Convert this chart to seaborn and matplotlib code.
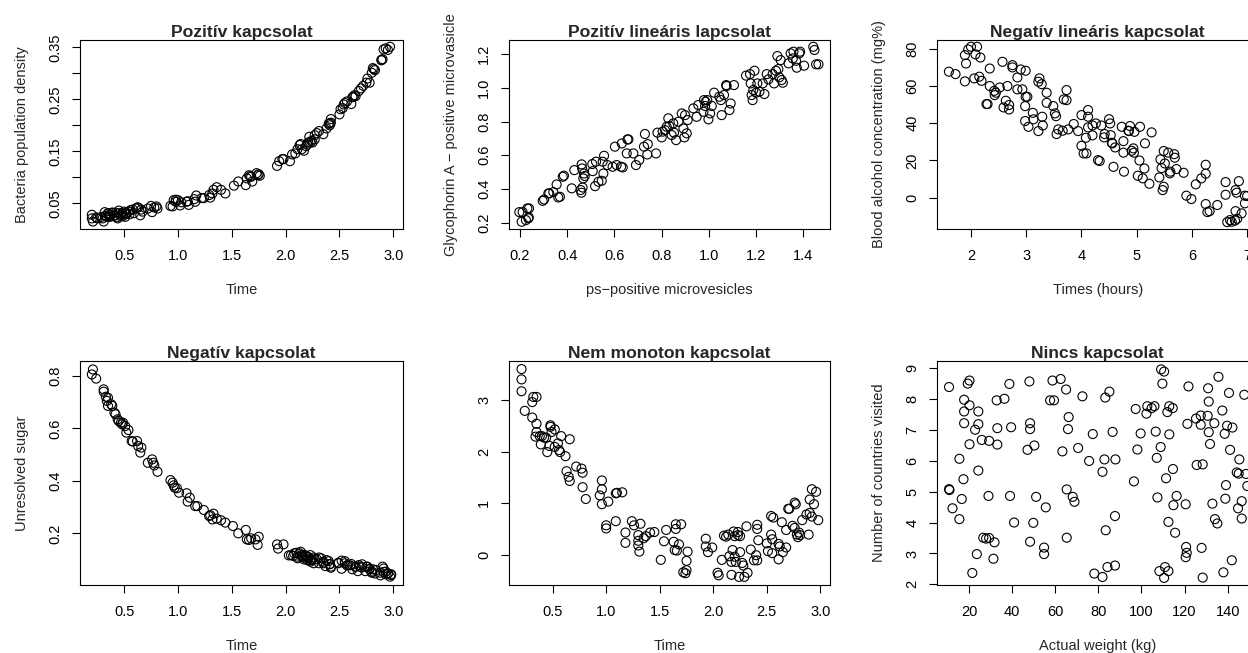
import matplotlib
matplotlib.use("Agg")
import matplotlib.pyplot as plt
import seaborn as sns

# --- data ---
# Pozitiv kapcsolat
bact_time = [0.20, 0.20, 0.21, 0.24, 0.30, 0.31, 0.32, 0.33, 0.34, 0.35, 0.36, 0.37, 0.39, 0.41, 0.42,
             0.44, 0.45, 0.47, 0.47, 0.48, 0.50, 0.51, 0.52, 0.55, 0.58, 0.59, 0.62, 0.65, 0.66, 0.72,
             0.76, 0.78, 0.80, 0.95, 0.96, 0.98, 1.00, 1.02, 1.09, 1.10, 1.16, 1.17, 1.24, 1.29, 1.30,
             1.32, 1.33, 1.36, 1.40, 1.44, 1.52, 1.56, 1.63, 1.64, 1.66, 1.67, 1.68, 1.69, 1.73, 1.74,
             1.75, 1.76, 1.92, 1.94, 1.97, 1.98, 2.04, 2.06, 2.09, 2.11, 2.13, 2.14, 2.15, 2.17, 2.19,
             2.20, 2.21, 2.22, 2.23, 2.24, 2.25, 2.27, 2.27, 2.29, 2.31, 2.35, 2.38, 2.40, 2.41, 2.41,
             2.42, 2.42, 2.50, 2.51, 2.53, 2.54, 2.55, 2.57, 2.61, 2.62, 2.63, 2.64, 2.65, 2.68, 2.70,
             2.72, 2.75, 2.76, 2.78, 2.80, 2.81, 2.82, 2.83, 2.89, 2.89, 2.90, 2.91, 2.93, 2.95, 2.97,
             0.25, 0.29, 0.33, 0.35, 0.37, 0.39, 0.41, 0.43, 0.45, 0.49, 0.52, 0.54, 0.56, 0.61, 0.63,
             0.67, 0.75, 0.81, 0.93, 0.98, 1.03, 1.08, 1.15, 1.22]
bact_density = [0.028, 0.021, 0.015, 0.023, 0.021, 0.015, 0.033, 0.026, 0.024, 0.031, 0.025, 0.028, 0.032,
                0.026, 0.032, 0.021, 0.036, 0.028, 0.025, 0.031, 0.034, 0.024, 0.032, 0.029, 0.038, 0.031,
                0.042, 0.027, 0.038, 0.040, 0.033, 0.042, 0.044, 0.044, 0.056, 0.053, 0.056, 0.046, 0.054,
                0.047, 0.053, 0.065, 0.060, 0.066, 0.061, 0.069, 0.076, 0.081, 0.076, 0.069, 0.084, 0.092,
                0.085, 0.098, 0.104, 0.102, 0.101, 0.092, 0.108, 0.104, 0.106, 0.103, 0.122, 0.131, 0.135,
                0.135, 0.131, 0.144, 0.146, 0.154, 0.162, 0.164, 0.154, 0.151, 0.160, 0.163, 0.167, 0.178,
                0.167, 0.170, 0.167, 0.173, 0.181, 0.185, 0.189, 0.183, 0.194, 0.203, 0.204, 0.200, 0.212,
                0.205, 0.221, 0.231, 0.233, 0.240, 0.243, 0.246, 0.241, 0.254, 0.255, 0.258, 0.256, 0.266,
                0.271, 0.276, 0.282, 0.290, 0.282, 0.301, 0.310, 0.308, 0.306, 0.326, 0.325, 0.327, 0.346,
                0.348, 0.345, 0.351,
                0.021, 0.024, 0.026, 0.030, 0.024, 0.032, 0.027, 0.023, 0.031, 0.026, 0.030, 0.034, 0.037,
                0.040, 0.042, 0.034, 0.045, 0.040, 0.045, 0.057, 0.052, 0.053, 0.058, 0.060]

# Pozitiv linearis
ps_micro = [0.197, 0.211, 0.207, 0.225, 0.231, 0.237, 0.238, 0.235, 0.296, 0.302, 0.320, 0.324, 0.341, 0.355,
            0.362, 0.369, 0.381, 0.386, 0.419, 0.430, 0.457, 0.460, 0.461, 0.463, 0.465, 0.468, 0.471, 0.474,
            0.506, 0.508, 0.518, 0.522, 0.532, 0.546, 0.553, 0.556, 0.550, 0.570, 0.592, 0.602, 0.609, 0.628,
            0.631, 0.635, 0.652, 0.655, 0.659, 0.680, 0.691, 0.705, 0.725, 0.729, 0.741, 0.739, 0.776, 0.782,
            0.800, 0.804, 0.814, 0.821, 0.832, 0.828, 0.842, 0.849, 0.852, 0.861, 0.871, 0.885, 0.892, 0.896,
            0.899, 0.906, 0.910, 0.934, 0.948, 0.955, 0.977, 0.979, 0.986, 0.984, 0.993, 0.998, 1.005, 1.012,
            1.022, 1.044, 1.051, 1.054, 1.064, 1.073, 1.075, 1.087, 1.092, 1.106, 1.157, 1.174, 1.177, 1.181,
            1.185, 1.188, 1.193, 1.200, 1.205, 1.214, 1.228, 1.235, 1.245, 1.252, 1.270, 1.276, 1.284, 1.294,
            1.298, 1.308, 1.313, 1.290, 1.304, 1.337, 1.346, 1.355, 1.358, 1.369, 1.372, 1.383, 1.386, 1.403,
            1.442, 1.447, 1.454, 1.464]
glyco = [0.263, 0.263, 0.206, 0.216, 0.285, 0.232, 0.285, 0.226, 0.330, 0.338, 0.374, 0.374, 0.382, 0.427,
         0.350, 0.354, 0.473, 0.479, 0.404, 0.512, 0.394, 0.378, 0.546, 0.522, 0.409, 0.463, 0.492, 0.477,
         0.548, 0.506, 0.417, 0.562, 0.443, 0.449, 0.492, 0.597, 0.562, 0.542, 0.532, 0.651, 0.542, 0.532,
         0.670, 0.528, 0.611, 0.694, 0.694, 0.611, 0.542, 0.572, 0.651, 0.726, 0.666, 0.605, 0.611, 0.734,
         0.706, 0.740, 0.749, 0.769, 0.773, 0.819, 0.720, 0.789, 0.734, 0.690, 0.799, 0.848, 0.759, 0.706,
         0.838, 0.730, 0.809, 0.878, 0.828, 0.898, 0.858, 0.927, 0.917, 0.892, 0.927, 0.813, 0.848, 0.892,
         0.971, 0.947, 0.927, 0.838, 0.957, 1.016, 1.010, 0.868, 0.907, 1.016, 1.072, 1.081, 1.026, 0.957,
         0.927, 0.987, 1.101, 0.971, 1.026, 0.977, 1.026, 0.963, 1.081, 1.050, 1.081, 1.026, 1.101, 1.111,
         1.062, 1.046, 1.030, 1.188, 1.164, 1.145, 1.204, 1.174, 1.214, 1.160, 1.119, 1.204, 1.214, 1.131,
         1.243, 1.224, 1.139, 1.139]

# Negativ linearis
hours = [1.60, 1.72, 1.89, 1.91, 1.89, 1.95, 2.00, 2.11, 2.08, 2.17, 2.06, 2.15, 2.19, 2.34, 2.34, 2.28,
         2.30, 2.42, 2.43, 2.45, 2.52, 2.57, 2.59, 2.63, 2.66, 2.69, 2.69, 2.75, 2.75, 2.84, 2.84, 2.90,
         2.93, 2.99, 2.98, 2.99, 3.02, 2.98, 3.04, 3.12, 3.13, 3.22, 3.22, 3.24, 3.28, 3.29, 3.30, 3.37,
         3.37, 3.49, 3.52, 3.54, 3.55, 3.58, 3.66, 3.68, 3.73, 3.73, 3.76, 3.86, 3.94, 4.00, 4.00, 4.04,
         4.09, 4.08, 4.12, 4.12, 4.12, 4.20, 4.20, 4.26, 4.30, 4.33, 4.36, 4.41, 4.42, 4.50, 4.52, 4.53,
         4.55, 4.58, 4.56, 4.61, 4.73, 4.76, 4.76, 4.77, 4.85, 4.86, 4.88, 4.91, 4.94, 4.95, 4.96, 5.02,
         5.05, 5.06, 5.11, 5.14, 5.15, 5.23, 5.27, 5.41, 5.43, 5.45, 5.47, 5.49, 5.51, 5.49, 5.57, 5.60,
         5.61, 5.68, 5.69, 5.72, 5.85, 5.90, 5.99, 6.07, 6.17, 6.25, 6.25, 6.25, 6.28, 6.32, 6.46, 6.61,
         6.61, 6.64, 6.69, 6.72, 6.78, 6.79, 6.81, 6.79, 6.85, 6.90, 6.82, 6.96, 6.96, 7.00]
alcohol = [67.7, 66.4, 62.5, 72.1, 76.6, 79.6, 81.1, 81.1, 77.0, 75.3, 64.1, 65.0, 62.8, 69.4, 60.0, 50.3,
           50.3, 57.4, 55.1, 56.4, 59.2, 73.0, 48.5, 52.1, 60.0, 49.8, 47.4, 71.2, 70.0, 64.6, 58.2, 68.9,
           58.2, 68.2, 49.2, 54.2, 54.2, 41.2, 38.1, 45.6, 42.1, 35.8, 62.3, 64.1, 61.0, 43.5, 38.8, 56.4,
           51.0, 49.2, 45.3, 43.8, 34.2, 36.7, 36.0, 52.8, 57.8, 52.4, 36.7, 39.6, 35.8, 27.9, 44.4, 23.8,
           23.8, 32.2, 47.1, 43.5, 37.8, 38.8, 33.5, 39.9, 20.2, 19.7, 38.8, 32.4, 34.2, 42.2, 39.9, 33.6,
           29.5, 16.6, 29.2, 27.0, 38.1, 30.4, 24.2, 14.0, 36.0, 35.8, 38.5, 25.2, 26.5, 24.2, 35.4, 11.8,
           20.0, 38.1, 10.4, 15.7, 29.2, 7.5, 35.1, 10.9, 20.6, 15.9, 4.1, 25.1, 18.4, 5.9, 24.2, 13.1,
           14.0, 23.4, 21.5, 15.4, 13.4, 1.1, -0.7, 7.2, 10.4, 17.7, 12.9, -3.4, -7.7, -7.2, -3.9, 8.4,
           1.6, -13.1, -12.0, -12.9, -12.3, -7.2, 2.7, 4.1, 8.9, -8.4, -11.3, 1.1, -3.0, 0.9]

# Negativ kapcsolat
sugar_time = [0.21, 0.20, 0.24, 0.31, 0.31, 0.33, 0.35, 0.34, 0.35, 0.38, 0.39, 0.41, 0.42, 0.44, 0.45,
              0.47, 0.48, 0.49, 0.51, 0.52, 0.54, 0.57, 0.58, 0.62, 0.63, 0.65, 0.66, 0.72, 0.76, 0.77,
              0.78, 0.81, 0.93, 0.95, 0.96, 0.97, 0.99, 1.01, 1.08, 1.09, 1.11, 1.16, 1.18, 1.24, 1.29,
              1.30, 1.32, 1.33, 1.36, 1.40, 1.44, 1.51, 1.56, 1.63, 1.64, 1.66, 1.68, 1.72, 1.75, 1.74,
              1.92, 1.93, 1.98, 2.03, 2.07, 2.10, 2.11, 2.14, 2.15, 2.17, 2.18, 2.20, 2.21, 2.23, 2.24,
              2.26, 2.27, 2.31, 2.33, 2.35, 2.37, 2.40, 2.41, 2.42, 2.49, 2.52, 2.55, 2.57, 2.60, 2.62,
              2.65, 2.67, 2.69, 2.71, 2.74, 2.76, 2.78, 2.80, 2.81, 2.83, 2.88, 2.90, 2.91, 2.93, 2.95,
              2.97, 2.98,
              2.05, 2.08, 2.11, 2.13, 2.15, 2.17, 2.19, 2.21, 2.23, 2.24, 2.26, 2.29, 2.31, 2.35, 2.38,
              2.41, 2.42, 2.49, 2.52, 2.55, 2.58, 2.61, 2.65, 2.68, 2.71, 2.75, 2.78, 2.80, 2.84, 2.88,
              2.91, 2.93, 2.95, 2.98]
unresolved_sugar = [0.825, 0.806, 0.790, 0.749, 0.740, 0.721, 0.717, 0.705, 0.686, 0.692, 0.686, 0.660,
                    0.654, 0.635, 0.628, 0.622, 0.616, 0.622, 0.609, 0.584, 0.594, 0.552, 0.550, 0.552,
                    0.533, 0.508, 0.527, 0.469, 0.482, 0.469, 0.459, 0.435, 0.403, 0.393, 0.383, 0.374,
                    0.372, 0.355, 0.353, 0.321, 0.336, 0.304, 0.304, 0.289, 0.266, 0.269, 0.253, 0.275,
                    0.256, 0.250, 0.241, 0.228, 0.200, 0.213, 0.177, 0.175, 0.181, 0.177, 0.187, 0.156,
                    0.158, 0.142, 0.158, 0.116, 0.114, 0.126, 0.105, 0.130, 0.111, 0.101, 0.117, 0.098,
                    0.110, 0.092, 0.101, 0.086, 0.101, 0.086, 0.105, 0.086, 0.075, 0.094, 0.082, 0.069,
                    0.086, 0.065, 0.094, 0.078, 0.078, 0.063, 0.073, 0.056, 0.073, 0.082, 0.056, 0.073,
                    0.065, 0.050, 0.063, 0.047, 0.040, 0.073, 0.053, 0.044, 0.047, 0.035, 0.044,
                    0.117, 0.124, 0.111, 0.124, 0.117, 0.108, 0.113, 0.104, 0.117, 0.098, 0.108, 0.101,
                    0.108, 0.092, 0.098, 0.083, 0.073, 0.088, 0.096, 0.086, 0.079, 0.083, 0.073, 0.079,
                    0.070, 0.073, 0.063, 0.054, 0.060, 0.050, 0.066, 0.054, 0.047, 0.041]

# Nem monoton
nm_time = [0.21, 0.21, 0.21, 0.24, 0.31, 0.32, 0.35, 0.31, 0.35, 0.35, 0.34, 0.38, 0.40, 0.39, 0.42,
           0.44, 0.45, 0.47, 0.48, 0.48, 0.49, 0.52, 0.52, 0.55, 0.56, 0.57, 0.58, 0.62, 0.63, 0.65,
           0.66, 0.66, 0.72, 0.77, 0.78, 0.78, 0.81, 0.94, 0.96, 0.96, 0.96, 1.00, 1.00, 1.02, 1.09,
           1.10, 1.15, 1.09, 1.18, 1.18, 1.24, 1.26, 1.30, 1.30, 1.30, 1.31, 1.32, 1.35, 1.37, 1.41,
           1.45, 1.51, 1.54, 1.56, 1.63, 1.64, 1.65, 1.65, 1.66, 1.68, 1.70, 1.72, 1.74, 1.75, 1.75,
           1.76, 1.93, 1.93, 1.95, 1.99, 2.04, 2.05, 2.08, 2.10, 2.12, 2.14, 2.15, 2.17, 2.17, 2.18,
           2.19, 2.20, 2.20, 2.21, 2.23, 2.23, 2.24, 2.25, 2.25, 2.27, 2.28, 2.29, 2.31, 2.32, 2.35,
           2.38, 2.40, 2.41, 2.41, 2.42, 2.41, 2.50, 2.51, 2.54, 2.55, 2.54, 2.55, 2.56, 2.61, 2.62,
           2.61, 2.64, 2.65, 2.68, 2.68, 2.70, 2.71, 2.74, 2.76, 2.77, 2.76, 2.78, 2.79, 2.80, 2.81,
           2.83, 2.87, 2.89, 2.90, 2.90, 2.92, 2.92, 2.94, 2.96, 2.98]
nm_value = [3.60, 3.40, 3.17, 2.79, 2.96, 3.06, 3.06, 2.66, 2.54, 2.38, 2.29, 2.30, 2.30, 2.14, 2.27,
            2.27, 1.99, 2.11, 2.51, 2.48, 2.38, 2.43, 2.09, 2.16, 2.03, 1.99, 2.30, 1.91, 1.62, 1.51,
            1.43, 2.24, 1.71, 1.67, 1.59, 1.31, 1.08, 1.15, 1.44, 1.27, 0.98, 0.57, 0.51, 1.03, 1.19,
            1.20, 1.21, 0.65, 0.43, 0.23, 0.65, 0.57, 0.38, 0.27, 0.18, 0.06, 0.60, 0.32, 0.36, 0.43,
            0.44, -0.10, 0.26, 0.48, 0.25, 0.09, 0.50, 0.59, 0.08, 0.20, 0.59, -0.34, -0.36, -0.30, -0.12,
            0.06, 0.31, 0.16, 0.05, 0.14, -0.35, -0.40, -0.10, 0.37, 0.35, 0.39, -0.03, -0.39, -0.14, 0.09,
            0.45, -0.04, 0.36, -0.14, 0.44, 0.38, -0.43, 0.05, 0.36, -0.16, -0.21, -0.43, 0.55, -0.35, 0.10,
            -0.11, -0.01, 0.50, 0.58, 0.28, -0.11, 0.22, 0.07, 0.39, 0.30, 0.75, 0.03, 0.72, 0.21, 0.16,
            -0.09, 0.63, 0.05, 0.14, 0.48, 0.89, 0.89, 0.56, 1.01, 0.98, 0.52, 0.39, 0.34, 0.43, 0.38,
            0.67, 0.78, 0.39, 1.07, 0.81, 0.74, 1.27, 0.98, 1.22, 0.67]

# Nincs kapcsolat
weight = [10.7, 10.7, 10.9, 12.3, 15.5, 15.5, 16.6, 17.4, 17.7, 17.7, 17.7, 19.4, 20.2, 20.2, 20.2,
          21.5, 22.8, 23.6, 24.3, 24.3, 24.3, 25.9, 26.6, 27.9, 29.3, 29.0, 29.3, 31.3, 31.8, 32.8,
          33.1, 33.1, 36.4, 38.7, 39.0, 39.5, 40.9, 47.1, 48.0, 48.3, 48.3, 48.3, 49.8, 50.3, 51.1,
          54.8, 54.8, 55.6, 57.6, 58.7, 59.4, 62.5, 63.3, 65.0, 65.3, 65.3, 65.9, 66.2, 68.1, 68.9,
          70.6, 72.6, 77.4, 75.7, 78.1, 81.9, 81.9, 82.8, 83.4, 83.2, 84.2, 85.1, 86.6, 87.9, 87.7,
          87.7, 96.5, 97.3, 98.1, 99.6, 102.3, 102.7, 104.7, 106.0, 106.6, 107.1, 107.4, 108.3, 108.9,
          109.1, 109.7, 110.5, 110.5, 110.9, 111.4, 112.0, 112.5, 112.5, 112.9, 112.9, 114.5, 114.6,
          114.8, 115.6, 116.3, 120.5, 120.5, 120.7, 121.0, 121.3, 121.8, 125.3, 125.6, 127.5, 127.5,
          127.9, 128.4, 128.4, 130.7, 130.9, 131.2, 131.2, 131.8, 132.9, 133.8, 134.1, 135.2, 135.7,
          137.5, 138.0, 138.6, 138.9, 139.2, 139.7, 140.6, 141.1, 141.9, 142.2, 144.2, 144.8, 145.1,
          145.4, 146.5, 146.5, 147.7, 148.5, 149.1]
countries = [8.38, 5.08, 5.05, 4.46, 6.06, 4.11, 4.76, 5.40, 7.21, 7.59, 7.97, 8.49, 8.59, 7.79, 6.53,
             2.37, 7.00, 2.98, 7.59, 7.18, 5.68, 6.67, 3.51, 3.48, 3.50, 4.86, 6.64, 2.83, 3.36, 7.95,
             7.05, 6.52, 8.00, 8.48, 4.86, 7.08, 4.00, 6.35, 8.56, 7.21, 7.02, 3.38, 3.99, 6.49, 4.83,
             3.19, 2.98, 4.49, 7.95, 8.59, 7.95, 8.64, 6.30, 8.30, 3.51, 5.07, 7.02, 7.41, 4.83, 4.67,
             6.41, 8.08, 6.86, 5.99, 2.35, 5.64, 2.24, 6.04, 3.75, 8.04, 2.56, 8.23, 6.93, 6.04, 4.21,
             2.61, 5.33, 7.67, 6.36, 6.88, 7.52, 7.76, 7.70, 7.76, 6.94, 6.09, 4.81, 2.43, 6.44,
             8.95, 8.49, 8.88, 2.21, 2.56, 5.43, 7.57, 4.02, 2.43, 7.76, 6.85, 7.70, 5.73,
             4.56, 3.67, 4.86, 4.59, 2.88, 3.21, 3.02, 7.19, 8.40, 7.36, 5.86, 7.46, 7.16,
             3.18, 5.88, 2.22, 7.45, 8.34, 6.92, 7.91, 6.54, 4.61, 7.21, 4.11, 3.97, 8.71,
             7.62, 2.39, 6.87, 4.77, 5.21, 7.13, 8.19, 6.35, 2.78, 7.07, 5.62, 4.46, 5.58,
             6.04, 4.69, 4.13, 8.13, 5.57, 5.18]

sns.set_theme(style="ticks")
plt.rcParams['font.family'] = ['Liberation Sans', 'DejaVu Sans']

fig = plt.figure(figsize=(12.48, 6.53), dpi=100)

col_left = [0.0641, 0.4076, 0.7506]
col_w = [0.2588, 0.2575, 0.2580]
row_bottom = [0.6493, 0.1041]
row_h = [0.2894, 0.3430]


def panel(r, c, x, y, title, xlabel, ylabel, xlim, ylim, xticks, yticks, yticklabels=None):
    ax = fig.add_axes([col_left[c], row_bottom[r], col_w[c], row_h[r]])
    sns.scatterplot(x=x, y=y, ax=ax, s=42, marker="o", facecolors="none",
                    edgecolor="black", linewidth=0.8)
    ax.set_xlim(*xlim)
    ax.set_ylim(*ylim)
    ax.set_xticks(xticks)
    ax.set_yticks(yticks)
    if yticklabels is not None:
        ax.set_yticklabels(yticklabels)
    for s in ax.spines.values():
        s.set_visible(True)
        s.set_linewidth(0.8)
        s.set_color("black")
    ax.tick_params(axis="both", direction="out", length=5.5, width=0.8, color="black",
                   labelsize=10.5, labelcolor="black")
    ax.tick_params(axis="x", pad=9)
    ax.tick_params(axis="y", pad=7, labelrotation=90)
    for lbl in ax.get_yticklabels():
        lbl.set_va("center")
    ax.set_title(title, fontsize=12.6, fontweight="bold", pad=2.5)
    ax.set_xlabel(xlabel, fontsize=10.5, labelpad=14)
    ax.set_ylabel(ylabel, fontsize=10.5, labelpad=14)
    ax.grid(False)
    return ax


panel(0, 0, bact_time, bact_density, "Pozitív kapcsolat", "Time", "Bacteria population density",
      (0.09, 3.09), (0.0006, 0.364), [0.5, 1.0, 1.5, 2.0, 2.5, 3.0],
      [0.05, 0.10, 0.15, 0.20, 0.25, 0.30, 0.35],
      ["0.05", "", "0.15", "", "0.25", "", "0.35"])
panel(0, 1, ps_micro, glyco, "Pozitív lineáris lapcsolat", "ps\u2212positive microvesicles",
      "Glycophorin A \u2212 positive microvasicle",
      (0.152, 1.513), (0.163, 1.283), [0.2, 0.4, 0.6, 0.8, 1.0, 1.2, 1.4],
      [0.2, 0.4, 0.6, 0.8, 1.0, 1.2])
panel(0, 2, hours, alcohol, "Negatív lineáris kapcsolat", "Times (hours)",
      "Blood alcohol concentration (mg%)",
      (1.38, 7.21), (-16.8, 84.7), [2, 3, 4, 5, 6, 7], [0, 20, 40, 60, 80])
panel(1, 0, sugar_time, unresolved_sugar, "Negatív kapcsolat", "Time", "Unresolved sugar",
      (0.09, 3.09), (0.003, 0.857), [0.5, 1.0, 1.5, 2.0, 2.5, 3.0], [0.2, 0.4, 0.6, 0.8])
panel(1, 1, nm_time, nm_value, "Nem monoton kapcsolat", "Time", "",
      (0.09, 3.09), (-0.588, 3.756), [0.5, 1.0, 1.5, 2.0, 2.5, 3.0], [0, 1, 2, 3])
panel(1, 2, weight, countries, "Nincs kapcsolat", "Actual weight (kg)", "Number of countries visited",
      (5.0, 154.4), (1.98, 9.22), [20, 40, 60, 80, 100, 120, 140], [2, 3, 4, 5, 6, 7, 8, 9])

fig.savefig("out.png", dpi=100)
